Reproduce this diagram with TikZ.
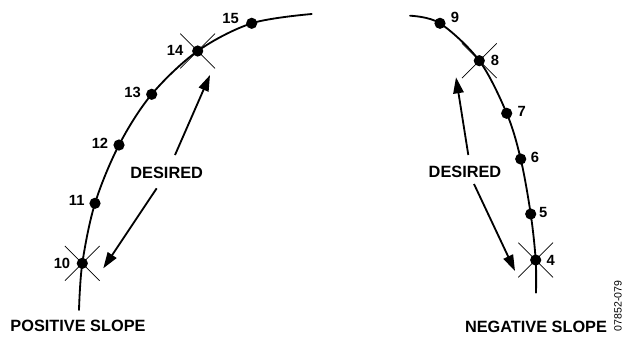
\documentclass[tikz,border=0pt]{standalone}
\usepackage{fontspec}
\setmainfont{Liberation Sans}
\usetikzlibrary{arrows.meta,shapes.misc}

\tikzset{
  dot/.style={circle, fill=black, inner sep=0pt, minimum size=0.28cm},
  xmark/.style={draw, cross out, line width=0.5pt, inner sep=0pt, minimum size=0.85cm},
  numlbl/.style={inner sep=0pt, font=\fontsize{10.5}{12}\selectfont\bfseries},
  biglbl/.style={inner sep=0pt, font=\fontsize{11.6}{13}\selectfont\bfseries},
  curve/.style={line width=1.3pt, line cap=round},
  desarrow/.style={line width=1.3pt, -{Triangle[length=4mm,width=2.6mm]}},
}

\begin{document}
\begin{tikzpicture}[x=0.025cm, y=-0.025cm]
  \useasboundingbox (0,0) rectangle (631,337);

  %% --- POSITIVE SLOPE (left curve) ---
  \coordinate (lbot) at (79,310);
  \coordinate (ltop) at (311.7,14);
  \node[dot] (p10) at (82.3,263.3) {};
  \node[dot] (p11) at (95,203.3)   {};
  \node[dot] (p12) at (119,145)    {};
  \node[dot] (p13) at (151.7,94.3) {};
  \node[dot] (p14) at (197.7,51)   {};
  \node[dot] (p15) at (251.7,23.3) {};
  \draw[curve] plot[smooth, tension=0.55] coordinates {(lbot) (p10.center) (p11.center) (p12.center) (p13.center) (p14.center) (p15.center) (ltop)};

  \node[xmark] (x10) at (p10) {};
  \node[xmark] (x14) at (p14) {};

  \node[numlbl] (n10) at (62,263)    {10};
  \node[numlbl] (n11) at (76.7,200.7) {11};
  \node[numlbl] (n12) at (100,143.3) {12};
  \node[numlbl] (n13) at (132.7,92.7) {13};
  \node[numlbl] (n14) at (175,50)    {14};
  \node[numlbl] (n15) at (230.7,18.3) {15};

  \node[biglbl] (desl) at (166.7,172.7) {DESIRED};
  \coordinate (lupt) at (175,155);
  \coordinate (luph) at (210,75);
  \coordinate (ldnt) at (156.7,188.3);
  \coordinate (ldnh) at (103.3,268.3);
  \draw[desarrow] (lupt) -- (luph);
  \draw[desarrow] (ldnt) -- (ldnh);

  \node[biglbl] (pos) at (78,326) {POSITIVE SLOPE};

  %% --- NEGATIVE SLOPE (right curve) ---
  \coordinate (rtop) at (410,15.7);
  \coordinate (rbot) at (536,292.7);
  \node[dot] (p9) at (440,23.3)    {};
  \node[dot] (p8) at (479.3,60.7)  {};
  \node[dot] (p7) at (506.7,113.3) {};
  \node[dot] (p6) at (520.7,159)   {};
  \node[dot] (p5) at (530.7,214)   {};
  \node[dot] (p4) at (535.7,260)   {};
  \draw[curve] plot[smooth, tension=0.55] coordinates {(rtop) (p9.center) (p8.center) (p7.center) (p6.center) (p5.center) (p4.center) (rbot)};

  \node[xmark] (x8) at (p8) {};
  \node[xmark] (x4) at (p4) {};

  \node[numlbl] (n9) at (455,17.3)    {9};
  \node[numlbl] (n8) at (495,60.7)    {8};
  \node[numlbl] (n7) at (521.7,111.7) {7};
  \node[numlbl] (n6) at (535,157.3)   {6};
  \node[numlbl] (n5) at (543.3,212.7) {5};
  \node[numlbl] (n4) at (550.7,260)   {4};

  \node[biglbl] (desr) at (465,171.7) {DESIRED};
  \coordinate (rupt) at (468.3,155);
  \coordinate (ruph) at (456,77.3);
  \coordinate (rdnt) at (474,184);
  \coordinate (rdnh) at (515,271);
  \draw[desarrow] (rupt) -- (ruph);
  \draw[desarrow] (rdnt) -- (rdnh);

  \node[biglbl] (neg) at (536,326.5) {NEGATIVE SLOPE};

  %% --- FIGURE ID ---
  \node[rotate=90, inner sep=0pt, font=\fontsize{7.5}{9}\selectfont] (fig) at (618,306) {07852-079};
\end{tikzpicture}
\end{document}
